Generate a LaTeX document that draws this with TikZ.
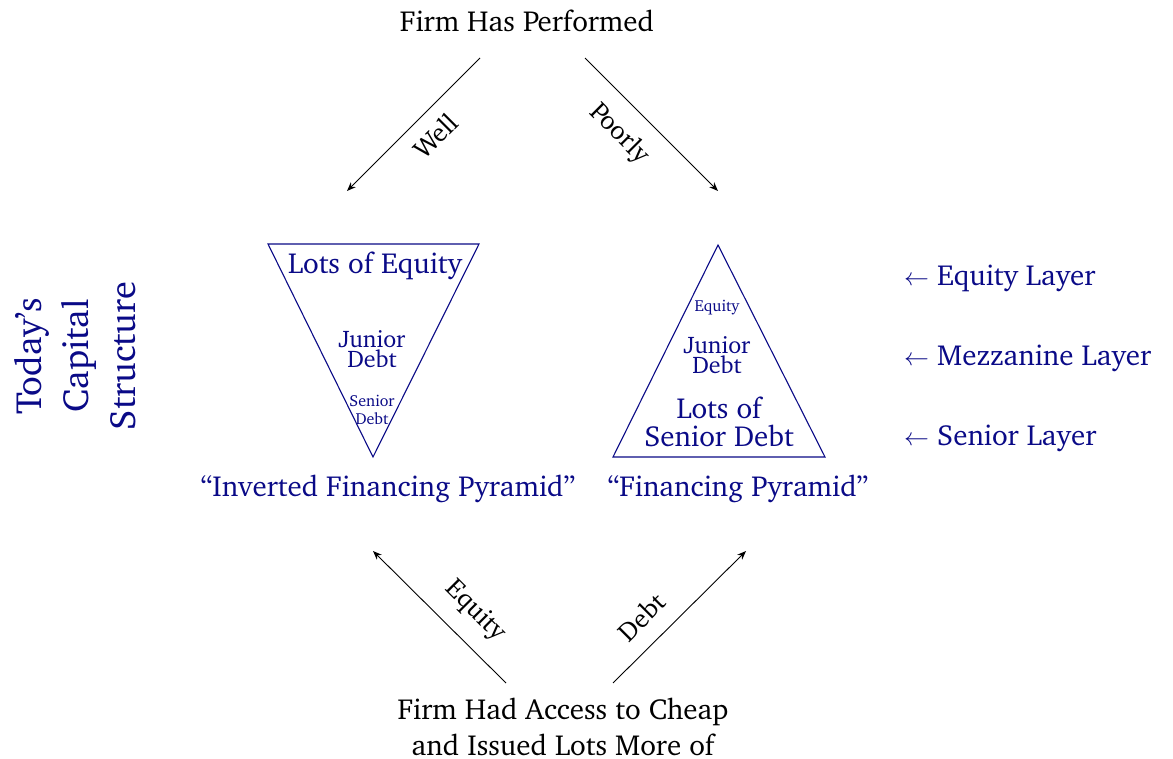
\documentclass[tikz,border=0pt]{standalone}
\usepackage[T1]{fontenc}
\usepackage{charter}
\usetikzlibrary{arrows.meta}
\definecolor{navy}{RGB}{10,10,135}
\tikzset{
  flow/.style={draw=black, line width=0.9pt, -{Stealth[length=9pt,width=7pt]}},
  pyr/.style={draw=navy, line width=1.1pt, line join=miter},
  blk/.style={text=black, inner sep=0pt, font=\fontsize{29}{32}\selectfont},
  lab/.style={text=black, inner sep=0pt, font=\fontsize{26.5}{28}\selectfont},
  big/.style={text=navy, inner sep=0pt, align=center, font=\fontsize{29}{28}\selectfont},
  mid/.style={text=navy, inner sep=0pt, align=center, font=\fontsize{24}{20}\selectfont},
  sml/.style={text=navy, inner sep=0pt, align=center, font=\fontsize{16}{18}\selectfont},
}
\begin{document}
\begin{tikzpicture}[x=1pt,y=-1pt]
\useasboundingbox[fill=white] (0,0) rectangle (1173,759);

% top
\node[blk, anchor=base] (perf) at (527,32) {Firm Has Performed};
\coordinate (wellS) at (480,58);
\coordinate (wellE) at (347,191);
\coordinate (poorS) at (585,58);
\coordinate (poorE) at (718,191);
\draw[flow] (wellS) -- (wellE);
\draw[flow] (poorS) -- (poorE);
\node[lab, rotate=45] (well) at (435,136) {Well};
\node[lab, rotate=-45] (poorly) at (619,134) {Poorly};

% inverted pyramid
\coordinate (iA) at (268,244);
\coordinate (iB) at (479,244);
\coordinate (iC) at (373,457);
\draw[pyr] (iA) -- (iB) -- (iC) -- cycle;
\node[big, anchor=base] (loe) at (375,274) {Lots of Equity};
\node[mid] (ijd) at (372,349) {Junior\\Debt};
\node[sml] (isd) at (372,410) {Senior\\Debt};

% pyramid
\coordinate (pA) at (718,245);
\coordinate (pB) at (613,457);
\coordinate (pC) at (825,457);
\draw[pyr] (pA) -- (pB) -- (pC) -- cycle;
\node[sml, anchor=base] (peq) at (717,312) {Equity};
\node[mid] (pjd) at (717,355) {Junior\\Debt};
\node[big] (psd) at (719,422) {Lots of\\Senior Debt};

% side title
\node[text=navy, inner sep=0pt, align=center, rotate=90,
      font=\fontsize{36.5}{47}\selectfont] (title) at (75,356) {Today's\\Capital\\Structure};

% captions
\node[big] (capI) at (388,489) {``Inverted Financing Pyramid''};
\node[big] (capP) at (738,489) {``Financing Pyramid''};

% layers
\node[big, anchor=west] (lE) at (904,278) {$\leftarrow$ Equity Layer};
\node[big, anchor=west] (lM) at (904,358) {$\leftarrow$ Mezzanine Layer};
\node[big, anchor=west] (lS) at (904,438) {$\leftarrow$ Senior Layer};

% bottom
\coordinate (eqS) at (506,683);
\coordinate (eqE) at (373,551);
\coordinate (dbS) at (613,683);
\coordinate (dbE) at (746,551);
\draw[flow] (eqS) -- (eqE);
\draw[flow] (dbS) -- (dbE);
\node[lab, rotate=-45] (eqlab) at (475,611) {Equity};
\node[lab, rotate=45] (dblab) at (641,617) {Debt};
\node[blk, align=center, anchor=base, font=\fontsize{29}{36}\selectfont] (acc) at (563,755) {Firm Had Access to Cheap\\and Issued Lots More of};
\end{tikzpicture}
\end{document}
